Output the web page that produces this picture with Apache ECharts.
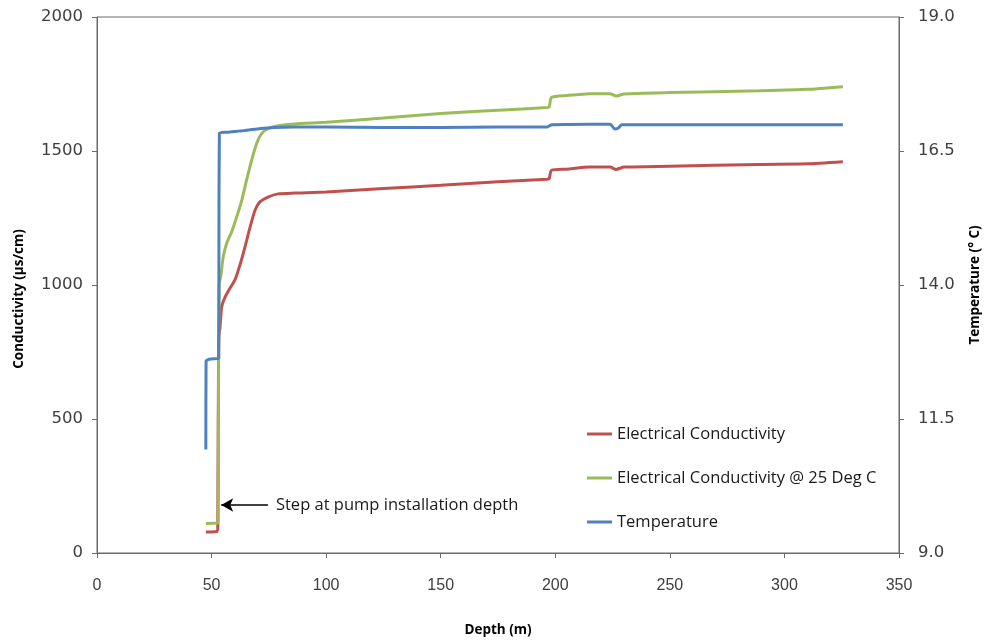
<!DOCTYPE html>
<html>
<head>
<meta charset="utf-8">
<script src="https://cdn.jsdelivr.net/npm/echarts@6/dist/echarts.min.js"></script>
<style>html,body{margin:0;padding:0;background:#fff}#c{width:987px;height:642px}</style>
</head>
<body>
<div id="c"></div>
<script>
// Electrical Conductivity (µs/cm) vs depth (m)
var ecDepth = [47.5, 52.3, 52.7, 53.0, 53.1, 53.7, 54.4, 55.9, 58.1, 60.2, 62.4, 64.6, 66.8, 69.0, 71.1, 74.6, 79.0, 86.4, 100, 125, 150, 175, 196.5, 197.4, 198.3, 205, 215, 224, 226.5, 230, 250, 289, 310, 325.5];
var ecValue = [78, 80, 86, 86, 800, 843, 918, 955, 989, 1019, 1075, 1142, 1216, 1280, 1310, 1328, 1340, 1343, 1347, 1360, 1372, 1385, 1395, 1398, 1428, 1432, 1440, 1440, 1431, 1440, 1443, 1450, 1452, 1460];

// Electrical Conductivity @ 25 Deg C (µs/cm)
var ec25Depth = [47.5, 52.5, 52.9, 53.0, 53.3, 54.1, 55.1, 56.6, 58.8, 61.0, 63.2, 65.3, 67.5, 69.7, 71.9, 74.8, 79.1, 86.4, 100, 125, 150, 175, 196.5, 197.4, 198.3, 205, 215, 224, 226.5, 230, 250, 289, 310, 325.5];
var ec25Value = [110, 112, 112, 500, 1000, 1037, 1106, 1156, 1199, 1255, 1317, 1392, 1466, 1529, 1566, 1584, 1594, 1601, 1607, 1623, 1640, 1652, 1662, 1665, 1700, 1707, 1714, 1714, 1705, 1713, 1718, 1725, 1730, 1740];

// Temperature (°C)
var tDepth = [47.5, 47.6, 52.5, 53.1, 53.2, 53.4, 56.7, 64.1, 71.4, 77.1, 86.0, 100, 125, 150, 175, 196.5, 198.5, 215, 224, 226, 227.5, 229, 260, 300, 325.5];
var tValue = [10.93, 12.58, 12.63, 12.63, 14.5, 16.83, 16.85, 16.88, 16.92, 16.94, 16.95, 16.95, 16.94, 16.94, 16.95, 16.95, 16.99, 17.0, 17.0, 16.91, 16.93, 16.99, 16.99, 16.99, 16.99];

var xTicks = [0, 50, 100, 150, 200, 250, 300, 350];
var leftTicks = [0, 500, 1000, 1500, 2000];
var rightTicks = [9.0, 11.5, 14.0, 16.5, 19.0];

var seriesNames = ['Electrical Conductivity', 'Electrical Conductivity @ 25 Deg C', 'Temperature'];
var annotationText = 'Step at pump installation depth';
var annotationFrom = [74.6, 179];
var annotationTo = [54.2, 179];

function pairs(xs, ys) { return xs.map(function (x, i) { return [x, ys[i]]; }); }

var axisColor = '#6b6b6b';
var labelFont = { color: '#404040', fontFamily: 'DejaVu Sans', fontSize: 16.5 };
var titleFont = { color: '#000', fontFamily: 'Open Sans', fontWeight: 'bold', fontSize: 13.5 };

var chart = echarts.init(document.getElementById('c'), null, { renderer: 'canvas' });
chart.setOption({
  animation: false,
  backgroundColor: '#fff',
  grid: { left: 97, right: 88, top: 17, bottom: 89, outerBoundsMode: 'none', containLabel: false,
    show: true, borderColor: axisColor, borderWidth: 1, backgroundColor: 'transparent' },
  legend: {
    orient: 'vertical', left: 587, top: 424, padding: 0, itemGap: 24, itemWidth: 25, itemHeight: 3,
    icon: 'rect',
    textStyle: { color: '#1a1a1a', fontFamily: 'Open Sans', fontSize: 16.5, lineHeight: 20 },
    data: seriesNames
  },
  xAxis: {
    type: 'value', min: 0, max: 350, interval: 50,
    name: 'Depth (m)', nameLocation: 'middle', nameGap: 70, nameTextStyle: titleFont,
    axisLine: { show: true, lineStyle: { color: axisColor } },
    axisTick: { show: true, inside: false, length: 5, lineStyle: { color: axisColor } },
    axisLabel: { margin: 25, color: '#404040', fontFamily: 'Liberation Sans', fontSize: 16,
      formatter: function (v) { return xTicks.indexOf(v) >= 0 ? String(v) : ''; } },
    splitLine: { show: false }
  },
  yAxis: [{
    type: 'value', min: 0, max: 2000, interval: 500, position: 'left',
    name: 'Conductivity (µs/cm)', nameLocation: 'middle', nameGap: 71, nameTextStyle: Object.assign({ padding: [0, 28, 0, 0] }, titleFont),
    axisLine: { show: true, lineStyle: { color: axisColor } },
    axisTick: { show: true, inside: false, length: 5, lineStyle: { color: axisColor } },
    axisLabel: Object.assign({ margin: 14, formatter: function (v) { return leftTicks.indexOf(v) >= 0 ? String(v) : ''; } }, labelFont),
    splitLine: { show: false }
  }, {
    type: 'value', min: 9, max: 19, interval: 2.5, position: 'right',
    name: 'Temperature (° C)', nameLocation: 'middle', nameGap: 69, nameTextStyle: titleFont,
    axisLine: { show: true, lineStyle: { color: axisColor } },
    axisTick: { show: true, inside: false, length: 5, lineStyle: { color: axisColor } },
    axisLabel: Object.assign({ margin: 19, formatter: function (v) { return v.toFixed(1); } }, labelFont),
    splitLine: { show: false }
  }],
  series: [{
    name: seriesNames[0], type: 'line', yAxisIndex: 0, symbol: 'none', smooth: 0.2,
    color: '#C0504D', lineStyle: { width: 3, color: '#C0504D' },
    data: pairs(ecDepth, ecValue)
  }, {
    name: seriesNames[1], type: 'line', yAxisIndex: 0, symbol: 'none', smooth: 0.2,
    color: '#9BBB59', lineStyle: { width: 3, color: '#9BBB59' },
    data: pairs(ec25Depth, ec25Value),
    markLine: {
      silent: true, symbol: ['none', 'arrow'], symbolSize: [10, 12],
      lineStyle: { color: '#000', width: 1.5, type: 'solid' },
      label: { show: true, position: 'start', formatter: annotationText, color: '#1a1a1a', fontFamily: 'Open Sans', fontSize: 16.5, distance: 8 },
      data: [[{ coord: annotationFrom }, { coord: annotationTo }]]
    }
  }, {
    name: seriesNames[2], type: 'line', yAxisIndex: 1, symbol: 'none', smooth: 0.2,
    color: '#4F81BD', lineStyle: { width: 3, color: '#4F81BD' },
    data: pairs(tDepth, tValue)
  }]
});
</script>
</body>
</html>
